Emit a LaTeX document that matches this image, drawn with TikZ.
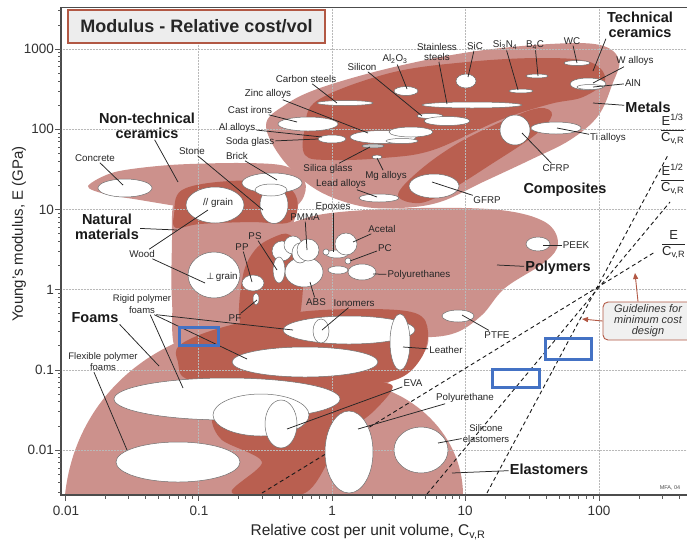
\documentclass[tikz,border=0pt]{standalone}
\usepackage{fontspec}
\setmainfont{Liberation Sans}
\newfontfamily\djv{DejaVu Sans}
\usetikzlibrary{shapes.geometric,arrows.meta}
\definecolor{regl}{RGB}{204,145,140}
\definecolor{regd}{RGB}{185,95,80}
\definecolor{cBlue}{RGB}{68,114,196}
\definecolor{cBord}{RGB}{178,88,68}
\definecolor{cOut}{RGB}{110,110,110}
\begin{document}
\begin{tikzpicture}[x=1pt,y=-1pt,
  mat/.style={ellipse, draw=cOut, fill=white, line width=0.5pt, inner sep=0pt},
  esz/.style 2 args={minimum width=#1pt, minimum height=#2pt},
  lbl/.style={font=\fontsize{9.8}{10.5}\selectfont, text=black!85, inner sep=1pt, align=center},
  grp/.style={font=\fontsize{14.5}{14.5}\selectfont\bfseries, text=black!90, inner sep=1pt, align=center},
  ptr/.style={draw=black!85, line width=0.75pt},
  guide/.style={draw=black!90, line width=0.9pt, dash pattern=on 4pt off 3pt},
  tick/.style={draw=black!65, line width=0.6pt},
  gridl/.style={draw=gray!55, densely dotted, line width=0.5pt},
  bbx/.style={draw=cBlue, line width=3pt, inner sep=0pt},
  garr/.style={draw=cBord, line width=0.9pt, -{Triangle[length=6pt,width=5pt]}},
  tkl/.style={font=\fontsize{13.5}{14}\selectfont, text=black!80, inner sep=0pt},
  frac/.style={font=\fontsize{13}{15}\selectfont, text=black!85, inner sep=0pt, anchor=west},
]
\useasboundingbox (0,0) rectangle (687,539);
\fill[white] (0,0) rectangle (687,539);

% ---------------- regions ----------------
\begin{scope}
\clip (61,7) rectangle (700,495);
% foams
\fill[regl] (65,495) .. controls (75,400) and (150,330) .. (260,322) .. controls (340,315) and (420,305) .. (428,335) .. controls (435,370) and (350,400) .. (300,430) .. controls (270,450) and (250,480) .. (240,495) -- cycle;
% elastomers
\fill[regl] (207,495) arc[start angle=180,end angle=360,x radius=128,y radius=115] -- cycle;
% natural materials
\fill[regl] plot[smooth cycle, tension=0.6] coordinates {(173,205) (182,186) (230,180) (280,183) (298,198) (292,228) (284,250) (281,300) (283,335) (240,348) (180,355) (172,300) (172,240)};
% non-technical ceramics
\fill[regl] plot[smooth cycle, tension=0.5] coordinates {(88,186) (115,172) (170,165) (240,163) (285,166) (305,182) (302,200) (285,212) (240,213) (190,208) (140,200) (105,194)};
% polymers
\fill[regl] plot[smooth cycle, tension=0.6] coordinates {(240,262) (262,238) (300,220) (340,212) (420,208) (500,210) (545,222) (558,243) (545,262) (505,288) (482,315) (455,333) (420,337) (380,330) (330,320) (280,322) (245,332) (237,300)};
% metals / ceramics / composites envelope
\fill[regl] plot[smooth cycle, tension=0.6] coordinates {(266,125) (285,105) (320,88) (390,68) (470,52) (550,44) (600,45) (619,60) (612,85) (598,116) (570,140) (530,160) (483,182) (440,202) (400,208) (360,206) (317,190) (283,160)};
% dark areas
\fill[regd] plot[smooth cycle, tension=0.6] coordinates {(305,128) (318,100) (390,73) (467,62) (540,58) (590,62) (605,80) (583,97) (550,104) (500,120) (433,150) (383,158) (330,160) (305,155)};
\fill[regd] plot[smooth cycle, tension=0.6] coordinates {(398,195) (420,170) (460,142) (510,118) (540,108) (552,115) (535,135) (490,165) (450,190) (420,203)};
\fill[regd] plot[smooth cycle, tension=0.6] coordinates {(174,215) (182,190) (230,181) (280,184) (297,199) (290,222) (250,222) (200,224) (176,228)};
\fill[regd] plot[smooth cycle, tension=0.6] coordinates {(243,275) (255,250) (272,238) (290,235) (302,260) (302,300) (295,318) (260,326) (240,322)};
\fill[regd] plot[smooth cycle, tension=0.6] coordinates {(180,345) (220,328) (290,313) (360,309) (415,313) (428,332) (420,360) (395,380) (340,386) (260,383) (190,380) (178,362)};
\fill[regd] plot[smooth cycle, tension=0.5] coordinates {(232,493) (262,462) (222,440) (212,418) (228,400) (290,390) (345,382) (392,385) (375,410) (340,440) (305,493)};
\end{scope}

% ---------------- grid ----------------
\foreach \xx in {198.5,332,465.5,599} \draw[gridl] (\xx,7) -- (\xx,495);
\foreach \yy in {49,129.2,209.4,289.6,369.8,450} \draw[gridl] (61,\yy) -- (690,\yy);

% ---------------- guideline dashed lines ----------------
\coordinate (gE0) at (262,493); \coordinate (gE1) at (655,252);
\coordinate (gH0) at (427,494); \coordinate (gH1) at (670,202);
\coordinate (gT0) at (487,493); \coordinate (gT1) at (668,155);
\draw[guide] (gE0) -- (gE1);
\draw[guide] (gH0) -- (gH1);
\draw[guide] (gT0) -- (gT1);

% ---------------- material bubbles ----------------
% metals & ceramics
\node[mat, esz={56}{5}] (eCarb) at (345,103) {};
\node[mat, esz={60}{14}] (eCast) at (308,124) {};
\node[mat, esz={66}{13}] (eZinc1) at (383,137) {};
\node[mat, esz={44}{10}] (eZinc2) at (411,132) {};
\node[mat, esz={32}{5}] (eZinc3) at (402,141) {};
\node[mat, esz={28}{8}] (eAl) at (332,139) {};
\node[mat, esz={22}{4}, fill=gray!45] (eSilica) at (373,146) {};
\node[mat, esz={10}{4}] (eMg) at (377,157) {};
\node[mat, esz={40}{8}] (eLead) at (379,198) {};
\node[mat, esz={26}{5}] (eSilicon1) at (430,116) {};
\node[mat, esz={46}{9}] (eSilicon2) at (447,121) {};
\node[mat, esz={100}{6}] (eStain) at (472,105) {};
\node[mat, esz={24}{9}] (eAlO) at (406,91) {};
\node[mat, esz={20}{14}] (eSiC) at (466,81) {};
\node[mat, esz={24}{4}] (eSiN) at (521,91) {};
\node[mat, esz={22}{4}] (eBC) at (537,76) {};
\node[mat, esz={26}{5}] (eWC) at (577,63) {};
\node[mat, esz={36}{12}] (eW) at (588,84) {};
\node[mat, esz={26}{5}] (eAlN) at (590,87) {};
\node[mat, esz={50}{12}] (eTi) at (556,128) {};
\node[mat, esz={30}{30}] (eCFRP) at (515,130) {};
\node[mat, esz={50}{24}] (eGFRP) at (434,186) {};
% natural & non-technical ceramics
\node[mat, esz={54}{18}] (eConc) at (125,188) {};
\node[mat, esz={60}{20}] (eBrick) at (272,183) {};
\node[mat, esz={28}{37}] (eStone) at (274,205) {};
\node[mat, esz={32}{12}] (eStoneT) at (271,190) {};
\node[mat, esz={58}{36}] (ePar) at (215,205) {};
\node[mat, esz={52}{46}] (ePerp) at (214,275) {};
% polymers
\node[mat, esz={22}{16}] (ePP) at (253,283) {};
\node[mat, esz={6}{12}] (ePF) at (256,299) {};
\node[mat, esz={38}{30}] (eABS) at (304,272) {};
\node[mat, esz={20}{20}] (eC1) at (282,251) {};
\node[mat, esz={18}{18}] (eC2) at (293,245) {};
\node[mat, esz={16}{20}] (eC3) at (300,253) {};
\node[mat, esz={22}{22}] (ePMMA) at (308,250) {};
\node[mat, esz={12}{26}] (ePS) at (279,270) {};
\node[mat, esz={22}{8}] (eEpo) at (337,254) {};
\node[mat, esz={6}{6}] (eEpo2) at (326,252) {};
\node[mat, esz={22}{22}] (eAcet) at (346,244) {};
\node[mat, esz={6}{6}] (ePC) at (348,261) {};
\node[mat, esz={20}{8}] (eP5) at (338,270) {};
\node[mat, esz={28}{16}] (ePU) at (362,272) {};
\node[mat, esz={24}{14}] (ePEEK) at (538,244) {};
\node[mat, esz={32}{12}] (ePTFE) at (458,316) {};
% foams & elastomers
\node[mat, esz={124}{40}] (eFlex) at (178,462) {};
\node[mat, esz={226}{42}] (eFoamBig) at (227,399) {};
\node[mat, esz={146}{30}] (eRig2) at (305,362) {};
\node[mat, esz={132}{28}] (eRig1) at (349,330) {};
\node[mat, esz={16}{24}] (eIon) at (321,331) {};
\node[mat, esz={20}{56}] (eLeath) at (400,342) {};
\node[mat, esz={96}{42}] (eEVA) at (261,415) {};
\node[mat, esz={32}{48}] (eEVA2) at (281,424) {};
\node[mat, esz={48}{82}] (ePUe) at (349,452) {};
\node[mat, esz={54}{46}] (eSili) at (421,450) {};

% ---------------- frame and ticks ----------------
\draw[black!70, line width=0.8pt] (61,7) -- (690,7);
\draw[black!70, line width=1.1pt] (61,7) -- (61,495) -- (690,495);
\foreach \xx in {65,198.5,332,465.5,599} \draw[tick] (\xx,495) -- (\xx,501);
\foreach \dd in {-2,...,2}{\foreach \kk in {2,...,9}{\pgfmathsetmacro{\xx}{65+133.5*(log10(\kk)+(\dd)+2)}\draw[tick] (\xx,495) -- (\xx,498.5);}}
\foreach \yy in {49,129.2,209.4,289.6,369.8,450} \draw[tick] (55,\yy) -- (61,\yy);
\foreach \dd in {-2,...,2}{\foreach \kk in {2,...,9}{\pgfmathsetmacro{\yy}{49+80.2*(3-(\dd)-log10(\kk))}\draw[tick] (58,\yy) -- (61,\yy);}}
\foreach \kk in {3,...,9}{\pgfmathsetmacro{\yy}{49+80.2*(6-log10(\kk))}\draw[tick] (58,\yy) -- (61,\yy);}
\foreach \kk in {2,3}{\pgfmathsetmacro{\yy}{49+80.2*(0-log10(\kk))}\draw[tick] (58,\yy) -- (61,\yy);}

% tick labels
\node[tkl, anchor=east] (y1000) at (54,49) {1000};
\node[tkl, anchor=east] (y100) at (54,129.2) {100};
\node[tkl, anchor=east] (y10) at (54,209.4) {10};
\node[tkl, anchor=east] (y1) at (54,289.6) {1};
\node[tkl, anchor=east] (y01) at (54,369.8) {0.1};
\node[tkl, anchor=east] (y001) at (54,450) {0.01};
\node[tkl] (x001) at (66,511) {0.01};
\node[tkl] (x01) at (199,511) {0.1};
\node[tkl] (x1) at (332,511) {1};
\node[tkl] (x10) at (465,511) {10};
\node[tkl] (x100) at (599,511) {100};
\node[font=\fontsize{15}{15}\selectfont, text=black!85, rotate=90] (ylab) at (19,234) {Young's modulus, E (GPa)};
\node[font=\fontsize{15.5}{16}\selectfont, text=black!85] (xlab) at (368,532) {Relative cost per unit volume, C\textsubscript{v,R}};

% title
\node[draw=cBord, line width=1.2pt, fill=black!7, minimum width=257pt, minimum height=33pt, inner sep=0pt, font=\fontsize{18}{18}\selectfont\bfseries, text=black!85] (title) at (196.5,26.5) {Modulus - Relative cost/vol};

% ---------------- group labels ----------------
\node[grp] (techL) at (640,25) {Technical\\ceramics};
\node[grp] (metL) at (648,107) {Metals};
\node[grp] (compL) at (565,190) {Composites};
\node[grp] (polyL) at (558,268) {Polymers};
\node[grp] (elasL) at (549,469) {Elastomers};
\node[grp] (foamL) at (95,318) {Foams};
\node[grp] (natL) at (107,227) {Natural\\materials};
\node[grp] (ntcL) at (147,126) {Non-technical\\ceramics};
\coordinate (pTech) at (593,71);
\coordinate (pMet) at (593,103);
\coordinate (pPoly) at (497,265);
\coordinate (pElas) at (452,473);
\coordinate (pFoam) at (159,366);
\coordinate (pNat) at (177,230);
\coordinate (pNtc) at (178,182);
\draw[ptr] (techL.south west) -- (pTech);
\draw[ptr] (metL) -- (pMet);
\draw[ptr] (polyL) -- (pPoly);
\draw[ptr] (elasL) -- (pElas);
\draw[ptr] (foamL.south east) -- (pFoam);
\draw[ptr] (natL) -- (pNat);
\draw[ptr] (ntcL) -- (pNtc);

% ---------------- material labels ----------------
\node[lbl] (concL) at (95,158) {Concrete};
\node[lbl] (stoneL) at (192,151) {Stone};
\node[lbl] (brickL) at (237,156) {Brick};
\node[lbl] (sodaL) at (250,142) {Soda glass};
\node[lbl] (alL) at (237,128) {Al alloys};
\node[lbl] (castL) at (250,110) {Cast irons};
\node[lbl] (zincL) at (268,94) {Zinc alloys};
\node[lbl] (carbL) at (306,79) {Carbon steels};
\node[lbl] (siL) at (362,67) {Silicon};
\node[lbl] (aloL) at (395,59) {Al\textsubscript{2}O\textsubscript{3}};
\node[lbl, font=\fontsize{9.8}{10}\selectfont] (stainL) at (437,52) {Stainless\\steels};
\node[lbl] (sicL) at (475,46) {SiC};
\node[lbl] (sinL) at (505,45) {Si\textsubscript{3}N\textsubscript{4}};
\node[lbl] (bcL) at (535,45) {B\textsubscript{4}C};
\node[lbl] (wcL) at (572,41) {WC};
\node[lbl] (walL) at (635,61) {W alloys};
\node[lbl] (alnL) at (633,83) {AlN};
\node[lbl] (tiL) at (608,138) {Ti alloys};
\node[lbl] (cfrpL) at (556,168) {CFRP};
\node[lbl] (gfrpL) at (487,200) {GFRP};
\node[lbl] (mgL) at (386,176) {Mg alloys};
\node[lbl] (leadL) at (341,184) {Lead alloys};
\node[lbl] (silL) at (328,169) {Silica glass};
\node[lbl] (epoL) at (333,207) {Epoxies};
\node[lbl] (pmmaL) at (305,217) {PMMA};
\node[lbl] (psL) at (255,236) {PS};
\node[lbl] (ppL) at (242,247) {PP};
\node[lbl] (pfL) at (235,318) {PF};
\node[lbl] (acetL) at (382,229) {Acetal};
\node[lbl] (pcL) at (385,248) {PC};
\node[lbl] (puL) at (419,275) {Polyurethanes};
\node[lbl] (ionL) at (354,303) {Ionomers};
\node[lbl] (absL) at (316,302) {ABS};
\node[lbl] (woodL) at (142,254) {Wood};
\node[lbl] (parL) at (218,203) {// grain};
\node[lbl] (perpL) at (222,277) {{\djv\fontsize{9}{10}\selectfont ⊥}\,grain};
\node[lbl] (peekL) at (576,245) {PEEK};
\node[lbl] (ptfeL) at (497,335) {PTFE};
\node[lbl] (leathL) at (446,350) {Leather};
\node[lbl] (evaL) at (413,383) {EVA};
\node[lbl] (pueL) at (465,398) {Polyurethane};
\node[lbl, font=\fontsize{9.5}{11}\selectfont] (siliL) at (486,434) {Silicone\\elastomers};
\node[lbl, font=\fontsize{9.5}{12}\selectfont] (rigL) at (142,304) {Rigid polymer\\foams};
\node[lbl, font=\fontsize{9.5}{11}\selectfont] (flexL) at (103,362) {Flexible polymer\\foams};
\node[font=\fontsize{5.5}{6}\selectfont, text=black!70, inner sep=0pt] (mfa) at (670,488) {MFA, 04};

\coordinate (pConc) at (123,185);
\coordinate (pStone) at (263,210);
\coordinate (pBrick) at (277,180);
\coordinate (pSoda) at (318,139);
\coordinate (pAl) at (322,137);
\coordinate (pCast) at (297,122);
\coordinate (pZinc) at (368,133);
\coordinate (pCarb) at (337,103);
\coordinate (pSi) at (422,116);
\coordinate (pAlo) at (407,89);
\coordinate (pStain) at (447,104);
\coordinate (pSic) at (468,77);
\coordinate (pSin) at (518,90);
\coordinate (pBc) at (538,76);
\coordinate (pWc) at (577,63);
\coordinate (pWal) at (593,83);
\coordinate (pAln) at (593,87);
\coordinate (pTi) at (557,128);
\coordinate (pCfrp) at (522,133);
\coordinate (pGfrp) at (432,182);
\coordinate (pMg) at (377,158);
\coordinate (pLead) at (377,197);
\coordinate (pSil) at (370,147);
\coordinate (pEpo) at (333,252);
\coordinate (pPmma) at (307,250);
\coordinate (pPs) at (277,270);
\coordinate (pPp) at (252,282);
\coordinate (pPf) at (257,300);
\coordinate (pAcet) at (353,242);
\coordinate (pPc) at (350,261);
\coordinate (pPu) at (373,274);
\coordinate (pIon) at (322,330);
\coordinate (pAbs) at (310,282);
\coordinate (pWood1) at (208,210);
\coordinate (pWood2) at (205,283);
\coordinate (pPeek) at (543,245);
\coordinate (pPtfe) at (462,315);
\coordinate (pLeath) at (403,347);
\coordinate (pEva) at (287,429);
\coordinate (pPue) at (358,429);
\coordinate (pSili) at (438,443);
\coordinate (pRig1) at (293,330);
\coordinate (pRig2) at (247,359);
\coordinate (pRig3) at (183,388);
\coordinate (pFlex) at (127,450);

\draw[ptr] (concL) -- (pConc);
\draw[ptr] (stoneL) -- (pStone);
\draw[ptr] (brickL) -- (pBrick);
\draw[ptr] (sodaL) -- (pSoda);
\draw[ptr] (alL) -- (pAl);
\draw[ptr] (castL) -- (pCast);
\draw[ptr] (zincL) -- (pZinc);
\draw[ptr] (carbL) -- (pCarb);
\draw[ptr] (siL) -- (pSi);
\draw[ptr] (aloL) -- (pAlo);
\draw[ptr] (stainL) -- (pStain);
\draw[ptr] (sicL) -- (pSic);
\draw[ptr] (sinL) -- (pSin);
\draw[ptr] (bcL) -- (pBc);
\draw[ptr] (wcL) -- (pWc);
\draw[ptr] (walL) -- (pWal);
\draw[ptr] (alnL) -- (pAln);
\draw[ptr] (tiL) -- (pTi);
\draw[ptr] (cfrpL) -- (pCfrp);
\draw[ptr] (gfrpL) -- (pGfrp);
\draw[ptr] (mgL) -- (pMg);
\draw[ptr] (leadL) -- (pLead);
\draw[ptr] (silL) -- (pSil);
\draw[ptr] (epoL) -- (pEpo);
\draw[ptr] (pmmaL) -- (pPmma);
\draw[ptr] (psL) -- (pPs);
\draw[ptr] (ppL) -- (pPp);
\draw[ptr] (pfL) -- (pPf);
\draw[ptr] (acetL) -- (pAcet);
\draw[ptr] (pcL) -- (pPc);
\draw[ptr] (puL) -- (pPu);
\draw[ptr] (ionL) -- (pIon);
\draw[ptr] (absL) -- (pAbs);
\draw[ptr] (woodL) -- (pWood1);
\draw[ptr] (woodL) -- (pWood2);
\draw[ptr] (peekL) -- (pPeek);
\draw[ptr] (ptfeL) -- (pPtfe);
\draw[ptr] (leathL) -- (pLeath);
\draw[ptr] (evaL) -- (pEva);
\draw[ptr] (pueL) -- (pPue);
\draw[ptr] (siliL) -- (pSili);
\draw[ptr] ([xshift=-16pt]rigL.south east) -- (pRig1);
\draw[ptr] ([xshift=-18pt]rigL.south east) -- (pRig2);
\draw[ptr] ([xshift=-22pt]rigL.south east) -- (pRig3);
\draw[ptr] ([xshift=-9pt]flexL.south) -- (pFlex);

% ---------------- guideline labels ----------------
\node[frac] (fT) at (661,130) {\setlength{\arrayrulewidth}{1pt}\begin{tabular}{@{}c@{}}E\textsuperscript{1/3}\\ \hline C\textsubscript{v,R}\end{tabular}};
\node[frac] (fH) at (661,180) {\setlength{\arrayrulewidth}{1pt}\begin{tabular}{@{}c@{}}E\textsuperscript{1/2}\\ \hline C\textsubscript{v,R}\end{tabular}};
\node[frac] (fE) at (662,244) {\setlength{\arrayrulewidth}{1pt}\begin{tabular}{@{}c@{}}E\\ \hline C\textsubscript{v,R}\end{tabular}};

\node[draw=cBord, line width=0.9pt, fill=black!6, rounded corners=5pt, minimum width=90pt, minimum height=38pt, inner sep=0pt, align=center, font=\fontsize{11}{11}\selectfont\itshape, text=black!80] (gbox) at (648,321) {Guidelines for\\minimum cost\\design};
\coordinate (gA) at (635,273);
\coordinate (gB) at (582,319);
\draw[garr] ([xshift=-10pt]gbox.north) -- (gA);
\draw[garr] (gbox.west) -- (gB);

% ---------------- blue highlight boxes ----------------
\node[bbx, minimum width=39pt, minimum height=18pt] (b1) at (199,336.5) {};
\node[bbx, minimum width=46pt, minimum height=21pt] (b2) at (568.5,349) {};
\node[bbx, minimum width=47pt, minimum height=18pt] (b3) at (516,378.5) {};
\end{tikzpicture}
\end{document}
